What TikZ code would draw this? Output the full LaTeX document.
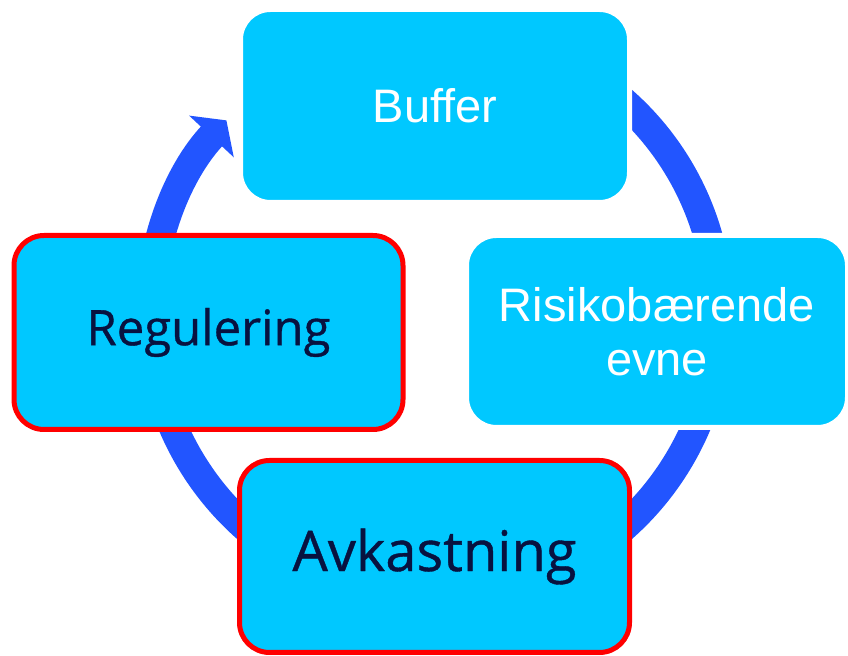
\documentclass[tikz,border=0pt]{standalone}
\usepackage{fontspec}
\setmainfont{Liberation Sans}
\newfontfamily\darkfont[FakeBold=0.7]{Open Sans}
\usetikzlibrary{arrows.meta}
\definecolor{boxblue}{RGB}{0,200,255}
\definecolor{ringblue}{RGB}{34,85,255}
\definecolor{navy}{RGB}{8,18,64}

\begin{document}
\begin{tikzpicture}[x=0.5pt,y=-0.5pt,
	cyclebox/.style={fill=boxblue,draw=white,line width=2.5pt,rounded corners=15pt,
		minimum width=194.5pt,minimum height=96.5pt,inner sep=0pt,align=center},
	redbox/.style={cyclebox,draw=red},
	whitetext/.style={text=white,font=\fontsize{23.5}{27}\selectfont},
	darktext/.style={text=navy,font=\darkfont\fontsize{24.5}{29}\selectfont}]
\useasboundingbox (0,0) rectangle (848,656);
\pgfmathsetmacro{\ringr}{142.25}
% ring with arrow
\coordinate (ctr) at (434.5,314.4);
\draw[ringblue,line width=14.5pt,-{Triangle[length=11pt,width=30pt]}]
	(ctr) ++(60:\ringr pt) arc[start angle=60,end angle=-223,radius=\ringr pt];
% the four steps
\node[cyclebox,whitetext] (buffer) at (435,106) {Buffer};
\node[cyclebox,whitetext,minimum width=190.5pt,minimum height=96pt] (risiko) at (657,331.5) {Risikobærende\\evne};
\node[redbox,darktext,minimum height=97pt] (regulering) at (208.5,332.5) {Regulering};
\node[redbox,darktext,minimum width=195pt,minimum height=96pt,font=\darkfont\fontsize{28}{33}\selectfont] (avkastning) at (434.5,556.5) {Avkastning};
\end{tikzpicture}
\end{document}
